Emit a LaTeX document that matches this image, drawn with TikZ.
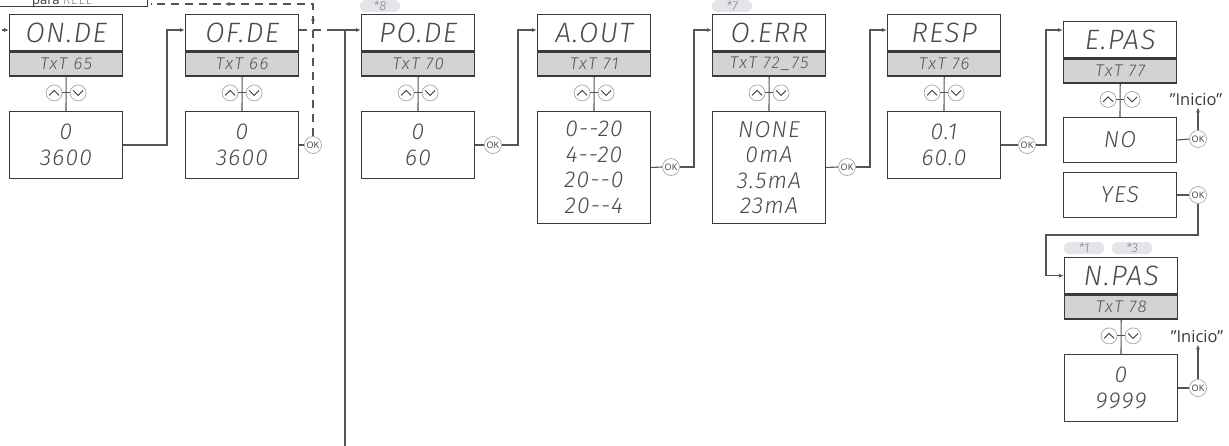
\documentclass[tikz,border=0pt]{standalone}
\usepackage{fontspec}
\setmainfont{Open Sans}
\newfontfamily\lcdfam{Fira Sans}[ItalicFont={Fira Sans Light Italic}]
\newcommand\lcd{\lcdfam\itshape}
\usetikzlibrary{calc,arrows.meta,decorations.markings}
\definecolor{edge}{HTML}{3A3A3A}
\definecolor{wirec}{HTML}{555555}
\definecolor{hdr}{HTML}{D3D3D3}
\definecolor{tagc}{HTML}{E3E5E8}
\definecolor{okgray}{HTML}{9A9A9A}
\definecolor{lcdtxt}{HTML}{4A4A4A}
\newcommand\lcdunit[8]{%
  \node[titlebox, anchor=north west] (#1t) at (#2,#3) {#4};
  \node[txtbox, anchor=north] (#1g) at (#1t.south) {#5};
  \node[valbox, anchor=north west, minimum height=#7pt] (#1v) at (#2,#6) {#8};
  \coordinate (#1m) at ($(#1g.south)!0.5!(#1v.north)$);
  \draw[wire] (#1g.south) -- (#1v.north);
  \node[btn] (#1u) at ($(#1m)+(-12,-1)$) {};
  \node[btn] (#1d) at ($(#1m)+(12,-1)$) {};
  \draw[wire] (#1u.east) -- (#1d.west);
  \draw[chev] ($(#1u)+(-5,2.5)$) -- ($(#1u)+(0,-2.5)$) -- ($(#1u)+(5,2.5)$);
  \draw[chev] ($(#1d)+(-5,-2.5)$) -- ($(#1d)+(0,2.5)$) -- ($(#1d)+(5,-2.5)$);
}
\begin{document}
\begin{tikzpicture}[x=1pt,y=-1pt,
  titlebox/.style={draw=edge, line width=1.4pt, fill=white, minimum width=113pt, minimum height=36pt, inner sep=0pt, font=\fontsize{28}{30}\lcd\addfontfeatures{LetterSpace=5}, text=lcdtxt},
  txtbox/.style={draw=edge, line width=1.4pt, fill=hdr, minimum width=113pt, minimum height=24pt, inner sep=0pt, font=\fontsize{17}{18}\lcd\addfontfeatures{LetterSpace=9}, text=wirec},
  valbox/.style={draw=edge, line width=1pt, fill=white, minimum width=113pt, inner sep=0pt, align=center, font=\fontsize{23}{25.5}\lcd\addfontfeatures{LetterSpace=5}, text=lcdtxt},
  btn/.style={circle, draw=okgray, line width=0.6pt, fill=white, minimum size=16pt, inner sep=0pt},
  okbtn/.style={circle, draw=okgray, line width=0.6pt, fill=white, minimum size=17pt, inner sep=0pt, font=\fontsize{9}{9}\selectfont, text=edge},
  wire/.style={draw=wirec, line width=1.1pt},
  chev/.style={draw=edge, line width=0.9pt},
  flow/.style={wire, -{Latex[length=5pt,width=4pt]}},
  dashedwire/.style={wire, dash pattern=on 8pt off 6pt},
  tag/.style={fill=tagc, rounded corners=5pt, minimum width=40pt, minimum height=12pt, inner sep=0pt, font=\fontsize{13}{13}\lcd, text=gray},
  inicio/.style={font=\fontsize{16.5}{18}\selectfont, text=edge, inner sep=1pt}
]
\useasboundingbox (0,0) rectangle (1229,445);
\coordinate (row) at (0,30);
% top box
\node[draw=edge, line width=1pt, anchor=south east, minimum width=170pt, minimum height=30pt, inner sep=0pt] (pr) at (148,7) {};
\node[anchor=base west, font=\fontsize{13}{14}\selectfont, text=edge, inner sep=0pt] (prt) at (32,4) {para {\lcd\color{gray}\addfontfeatures{LetterSpace=6} RELE}};
% units
\lcdunit{a}{9}{14}{ON.DE}{TxT 65}{111}{67}{0\\3600}
\lcdunit{b}{185}{14}{OF.DE}{TxT 66}{111}{67}{0\\3600}
\lcdunit{c}{361}{14}{PO.DE}{TxT 70}{111}{67}{0\\60}
\lcdunit{d}{537}{14}{A.OUT}{TxT 71}{111}{112}{0-{}-20\\4-{}-20\\20-{}-0\\20-{}-4}
\lcdunit{e}{712}{14}{O.ERR}{TxT 72\_75}{111}{112}{NONE\\0mA\\3.5mA\\23mA}
\lcdunit{f}{887}{14}{RESP}{TxT 76}{111}{67}{0.1\\60.0}
\lcdunit{g}{1063}{21}{E.PAS}{TxT 77}{117}{45}{NO}
\node[valbox, anchor=north west, minimum height=45pt] (gy) at (1063,172) {YES};
\lcdunit{h}{1064}{257}{N.PAS}{TxT 78}{354}{67}{0\\9999}
% tags
\node[tag] (tg8) at (380,6) {*8};
\node[tag] (tg7) at (732,6) {*7};
\node[tag] (tg1) at (1084,248) {*1};
\node[tag] (tg3) at (1132,248) {*3};
% OK buttons
\node[okbtn] (okb) at (313,145) {OK};
\node[okbtn] (okc) at (493,145) {OK};
\node[okbtn] (okd) at (671,167) {OK};
\node[okbtn] (oke) at (847,167) {OK};
\node[okbtn] (okf) at (1027,145) {OK};
\node[okbtn] (okg) at (1198,139) {OK};
\node[okbtn] (oky) at (1198,195) {OK};
\node[okbtn] (okh) at (1198,388) {OK};
\node[inicio] (in1) at (1196,100) {”Inicio”};
\node[inicio] (in2) at (1197,337) {”Inicio”};
% junction coordinates
\coordinate (entry) at (-4,30);
\coordinate (jab) at (167,0);
\coordinate (jc) at (518,0);
\coordinate (jd) at (694,0);
\coordinate (je) at (870,0);
\coordinate (jf) at (1046,0);
\coordinate (yb) at (1046,235);
\coordinate (topy) at (0,4);
\coordinate (dsend) at (335,30);
\coordinate (ret) at (345,470);
% connectors
\draw[flow, dash pattern=on 4pt off 2pt] (entry) -- (at.west |- row);
\draw[flow] (av.east) -- (av.east -| jab) |- (bt.west |- row);
\draw[wire] (bv.east) -- (okb.west);
\draw[dashedwire, postaction={decorate}, decoration={markings,
   mark=at position 0.41 with {\arrow{Latex[length=5pt,width=4pt]}},
   mark=at position 0.75 with {\arrow{Latex[length=5pt,width=4pt]}}}]
   (okb.north) -- (okb |- topy) -- ([xshift=3pt]pr.east |- topy);
\draw[dashedwire] (bt.east |- row) -- (dsend);
\draw[flow] (dsend) -- (ct.west |- row);
\draw[wire] (ret) -- (ret |- row);
\draw[wire] (cv.east) -- (okc.west);
\draw[flow] (okc.east) -- (okc.east -| jc) |- (dt.west |- row);
\draw[wire] (dv.east) -- (okd.west);
\draw[flow] (okd.east) -- (okd.east -| jd) |- (et.west |- row);
\draw[wire] (ev.east) -- (oke.west);
\draw[flow] (oke.east) -- (oke.east -| je) |- (ft.west |- row);
\draw[wire] (fv.east) -- (okf.west);
\draw[flow] (okf.east) -- (okf.east -| jf) |- (gt.west |- row);
\draw[wire] (gv.east) -- (okg.west);
\draw[flow] (okg.north) -- (okg.north |- in1.south);
\draw[wire] (gy.east) -- (oky.west);
\draw[flow] (oky.south) |- (yb) |- (ht.west);
\draw[wire] (hv.east) -- (okh.west);
\draw[flow] (okh.north) -- (okh.north |- in2.south);
\end{tikzpicture}
\end{document}
